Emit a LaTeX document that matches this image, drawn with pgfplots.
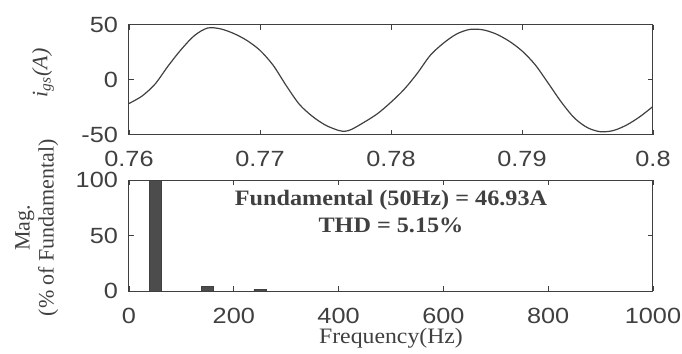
\documentclass[border=0pt]{standalone}
\usepackage{fontspec}
\setmainfont{Liberation Serif}
\newfontfamily\tickfont{Liberation Sans}
\usepackage{graphicx}
\usepackage{pgfplots}
\pgfplotsset{compat=1.18}
\definecolor{ink}{gray}{0.25}
\definecolor{barfill}{gray}{0.3}
\newcommand\hs[1]{\scalebox{1.15}[1]{#1}}
\begin{document}
\begin{tikzpicture}
\path[use as bounding box] (0,0) rectangle (341pt,-177pt);
\pgfplotsset{myax/.style={
  scale only axis, width=262pt, anchor=north west,
  axis line style={ink, line width=0.5pt},
  tick style={ink, line width=0.4pt},
  tick align=inside, major tick length=2.5pt,
  xtick pos=both, ytick pos=both,
  ticklabel style={font=\fontsize{11}{13}\tickfont, text=ink},
  xticklabel style={yshift=-5pt},
  yticklabel style={xshift=-2pt},
  label style={font=\fontsize{11}{12}\selectfont, text=ink},
}}
\begin{axis}[myax, at={(64.5pt,-12.25pt)}, height=55pt,
  xmin=0.76, xmax=0.8, ymin=-50, ymax=50,
  xtick={0.76,0.77,0.78,0.79,0.8}, xticklabels={\hs{0.76},\hs{0.77},\hs{0.78},\hs{0.79},\hs{0.8}},
  ytick={-50,0,50}, yticklabels={\hs{-50},\hs{0},\hs{50}},
  ylabel={\textit{i}\textsubscript{\textit{gs}}\textit{(A)}},
  ylabel style={at={(axis description cs:-0.164,0.56)}, anchor=center},
]
\addplot[smooth, ink, line width=0.6pt] coordinates {
(0.760,-21.8) (0.761,-15) (0.762,-4) (0.763,12.5) (0.764,27.5)
(0.765,40) (0.766,46.8) (0.767,46) (0.768,41.8) (0.769,35.5)
(0.770,26.5) (0.771,13) (0.772,-5.5) (0.773,-22.5) (0.774,-33.5)
(0.775,-41.5) (0.776,-46.3) (0.7765,-47) (0.777,-45.3) (0.778,-38.5)
(0.779,-30.8) (0.780,-20.6) (0.781,-9) (0.782,5.5) (0.783,22)
(0.784,33) (0.785,41.3) (0.786,45.5) (0.787,45.2) (0.788,41.5)
(0.789,35) (0.790,26) (0.791,13.5) (0.792,-3.3) (0.793,-20.5)
(0.794,-35) (0.795,-43.8) (0.796,-47.5) (0.797,-46.3) (0.798,-41.3)
(0.799,-33.8) (0.800,-24.5)
};
\end{axis}
\begin{axis}[myax, at={(64.5pt,-90pt)}, height=55.5pt,
  xmin=0, xmax=1000, ymin=0, ymax=100,
  xtick={0,200,400,600,800,1000}, xticklabels={\hs{0},\hs{200},\hs{400},\hs{600},\hs{800},\hs{1000}},
  ytick={0,50,100}, yticklabels={\hs{0},\hs{50},\hs{100}},
  xlabel={\scalebox{1.08}[1]{Frequency(Hz)}},
  xlabel style={at={(axis description cs:0.5,0)}, anchor=center, yshift=-23.5pt},
  ylabel={Mag.\\(\% of Fundamental)},
  ylabel style={align=center, at={(axis description cs:-0.176,0.57)}, anchor=center},
]
\addplot[ybar, bar width=23, fill=barfill, draw=ink, line width=0.3pt] coordinates {
(50,100) (150,4.5) (250,1.5)
};
\node[font=\fontsize{11}{13.5}\selectfont\bfseries, text=ink, align=center] at (axis cs:500,71.6)
  {\scalebox{1.1}[1]{Fundamental (50Hz) = 46.93A}\\\scalebox{1.1}[1]{THD = 5.15\%}};
\end{axis}
\end{tikzpicture}
\end{document}
